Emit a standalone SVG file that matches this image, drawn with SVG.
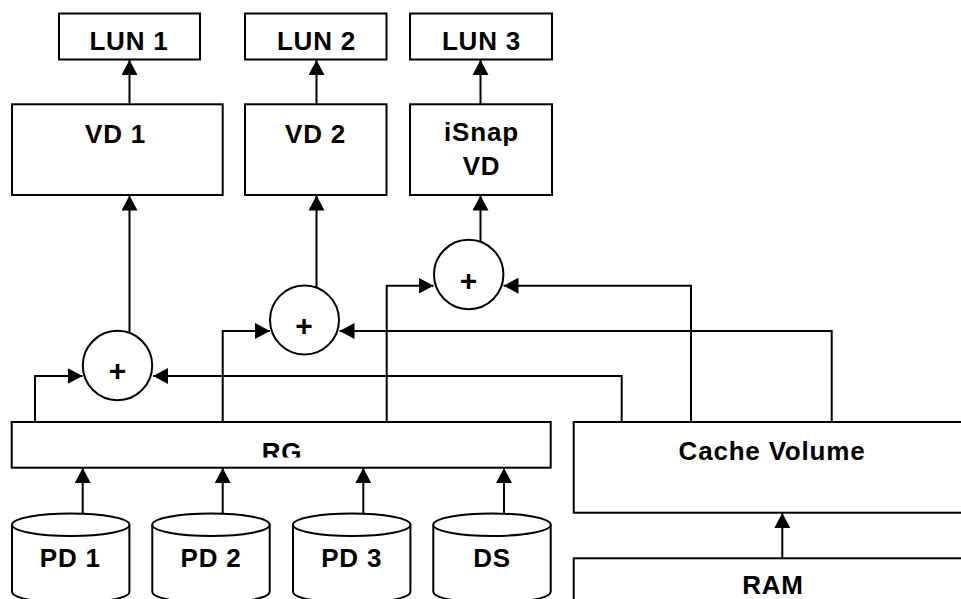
<svg xmlns="http://www.w3.org/2000/svg" width="961" height="599" viewBox="0 0 961 599">
<style>
.box{fill:#fff;stroke:#000;stroke-width:2}
.cyl{fill:#fff;stroke:#000;stroke-width:2}
.t{font-family:"Liberation Sans",Arial,Helvetica,sans-serif;font-weight:bold;font-size:26px;letter-spacing:0.8px;text-anchor:middle;fill:#000}
.p{font-family:"Liberation Sans",Arial,Helvetica,sans-serif;font-weight:bold;font-size:30px;text-anchor:middle;fill:#000}
.c{fill:none;stroke:#000;stroke-width:2}
</style>
<defs>
<marker id="ah" viewBox="0 0 15 16" markerWidth="15" markerHeight="16" refX="15" refY="8" orient="auto" markerUnits="userSpaceOnUse">
<path d="M0,0 L15,8 L0,16 Z" fill="#000"/>
</marker>
<clipPath id="rgclip"><rect x="12" y="422" width="539" height="35.5"/></clipPath>
</defs>
<rect width="961" height="599" fill="#fff"/>
<g id="connectors" class="c" marker-end="url(#ah)">
<path d="M129.5,104 V60"/>
<path d="M316.5,104 V60"/>
<path d="M480.5,104 V60"/>
<path d="M129.5,332.5 V195.5"/>
<path d="M316.5,287.8 V195.5"/>
<path d="M480.5,241.5 V195.5"/>
<path d="M35,422 V376 H82.5"/>
<path d="M621.7,422 V376 H153"/>
<path d="M222.7,422 V331 H270"/>
<path d="M831.7,422 V331 H339.5"/>
<path d="M386.7,422 V285.7 H433.5"/>
<path d="M691,422 V285.7 H503.5"/>
<path d="M82.7,513.3 V468"/>
<path d="M222.7,513.3 V468"/>
<path d="M363.3,513.3 V468"/>
<path d="M504,513.3 V468"/>
<path d="M782.3,558.3 V513"/>
</g>
<g id="lun1"><rect class="box" x="59" y="13.5" width="141" height="46"/><text class="t" x="129" y="49.5">LUN 1</text></g>
<g id="lun2"><rect class="box" x="245" y="13.5" width="141.5" height="46"/><text class="t" x="316.5" y="49.5">LUN 2</text></g>
<g id="lun3"><rect class="box" x="410" y="13.5" width="142" height="46"/><text class="t" x="481.5" y="49.5">LUN 3</text></g>
<g id="vd1"><rect class="box" x="12" y="104.3" width="210.7" height="90.7"/><text class="t" x="115.5" y="142.5">VD 1</text></g>
<g id="vd2"><rect class="box" x="245" y="104.3" width="141.5" height="90.7"/><text class="t" x="315.5" y="142.5">VD 2</text></g>
<g id="isnapvd"><rect class="box" x="410" y="104.3" width="142" height="90.7"/><text class="t" x="481.5" y="141.3">iSnap</text><text class="t" x="481.5" y="175.3">VD</text></g>
<g id="sum1"><circle class="box" cx="117.5" cy="365.5" r="34.7"/><text class="p" x="117.5" y="381">+</text></g>
<g id="sum2"><circle class="box" cx="304.5" cy="320" r="34.5"/><text class="p" x="304" y="336">+</text></g>
<g id="sum3"><circle class="box" cx="468.7" cy="274.5" r="34.7"/><text class="p" x="468.5" y="290.5">+</text></g>
<g id="rg"><rect class="box" x="11.7" y="422" width="539" height="45.7"/><text class="t" x="282" y="461.3" clip-path="url(#rgclip)">RG</text></g>
<g id="cache"><rect class="box" x="573.7" y="422" width="400" height="90.7"/><text class="t" x="772" y="460.3">Cache Volume</text></g>
<g id="ram"><rect class="box" x="573.7" y="558.3" width="400" height="60"/><text class="t" x="773" y="593.5">RAM</text></g>
<g id="pd1"><path class="cyl" d="M12,524.7 V591.7 A58.7,11.3 0 0 0 129.4,591.7 V524.7"/><ellipse class="cyl" cx="70.7" cy="524.7" rx="58.7" ry="11.3"/><text class="t" x="70.3" y="567">PD 1</text></g>
<g id="pd2"><path class="cyl" d="M152.3,524.7 V591.7 A58.7,11.3 0 0 0 269.7,591.7 V524.7"/><ellipse class="cyl" cx="211" cy="524.7" rx="58.7" ry="11.3"/><text class="t" x="211" y="567">PD 2</text></g>
<g id="pd3"><path class="cyl" d="M293,524.7 V591.7 A58.7,11.3 0 0 0 410.4,591.7 V524.7"/><ellipse class="cyl" cx="351.7" cy="524.7" rx="58.7" ry="11.3"/><text class="t" x="351.7" y="567">PD 3</text></g>
<g id="ds"><path class="cyl" d="M433.3,524.7 V591.7 A58.7,11.3 0 0 0 550.7,591.7 V524.7"/><ellipse class="cyl" cx="492" cy="524.7" rx="58.7" ry="11.3"/><text class="t" x="492" y="567">DS</text></g>
</svg>
